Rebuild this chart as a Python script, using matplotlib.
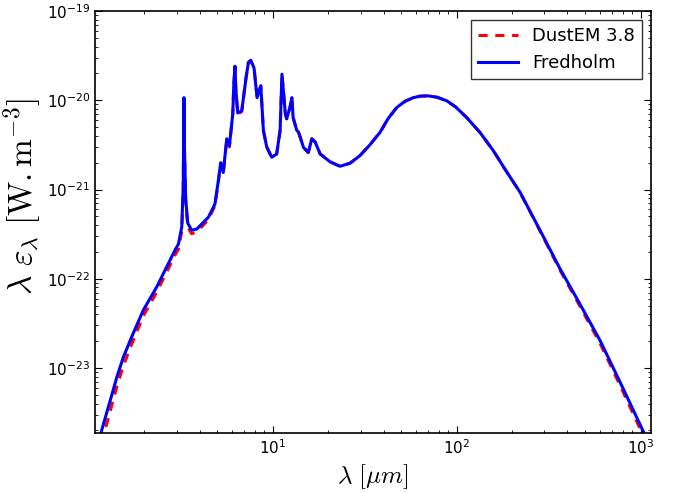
import matplotlib
matplotlib.use('Agg')
import matplotlib.pyplot as plt

# wavelength grid (micron)
lam = [1.17, 1.31, 1.42, 1.54, 1.71, 1.98, 2.34, 2.94, 3.07, 3.20, 3.26, 3.29, 3.31,
       3.36, 3.45, 3.62, 3.86, 4.47, 4.85, 5.06, 5.21, 5.38, 5.62, 5.81, 6.06, 6.14,
       6.23, 6.30, 6.45, 6.78, 7.16, 7.37, 7.59, 7.91, 8.08, 8.22, 8.61, 8.89, 9.27,
       9.88, 10.5, 10.96, 11.22, 11.7, 11.9, 12.4, 12.7, 12.9, 13.5, 13.8, 14.7, 15.6,
       16.3, 17.0, 18.1, 20.5, 23.2, 26.3, 29.8, 33.8, 38.3, 42.3, 47.2, 52.4, 58.1,
       63.2, 69.8, 78.2, 88.3, 99.1, 113, 134, 158, 185, 221, 284, 364, 468, 601,
       772, 1033]

fredholm = [1.95e-24, 4.4e-24, 7.9e-24, 1.32e-23, 2.23e-23, 4.47e-23, 8.1e-23, 2.09e-22,
            2.45e-22, 3.8e-22, 1.1e-21, 1.07e-20, 3.0e-21, 8.0e-22, 4.2e-22, 3.5e-22,
            3.6e-22, 4.9e-22, 6.9e-22, 1.26e-21, 2.0e-21, 1.55e-21, 3.7e-21, 3.1e-21,
            7.0e-21, 1.5e-20, 2.4e-20, 1.3e-20, 7.2e-21, 7.6e-21, 1.8e-20, 2.65e-20,
            2.8e-20, 2.3e-20, 1.5e-20, 1.07e-20, 1.45e-20, 4.6e-21, 3.0e-21, 2.3e-21,
            2.5e-21, 4.6e-21, 1.96e-20, 7.1e-21, 6.2e-21, 8.3e-21, 1.07e-20, 6.4e-21,
            4.6e-21, 4.4e-21, 2.95e-21, 2.6e-21, 3.7e-21, 3.4e-21, 2.5e-21, 2.04e-21,
            1.82e-21, 1.97e-21, 2.40e-21, 3.18e-21, 4.37e-21, 6.2e-21, 8.3e-21, 9.75e-21,
            1.07e-20, 1.11e-20, 1.12e-20, 1.08e-20, 9.86e-21, 8.35e-21, 6.43e-21, 4.34e-21,
            2.73e-21, 1.63e-21, 9.3e-22, 3.48e-22, 1.3e-22, 5.19e-23, 2.04e-23, 6.98e-24,
            1.95e-24]

dustem = [1.44e-24, 3.35e-24, 6.2e-24, 1.06e-23, 1.85e-23, 3.85e-23, 7.1e-23, 1.84e-22,
          2.15e-22, 3.4e-22, 1.0e-21, 1.0e-20, 2.8e-21, 7.4e-22, 3.8e-22, 3.2e-22,
          3.35e-22, 4.6e-22, 6.6e-22, 1.22e-21, 1.95e-21, 1.5e-21, 3.6e-21, 3.0e-21,
          7.0e-21, 1.5e-20, 2.4e-20, 1.3e-20, 7.0e-21, 7.5e-21, 1.8e-20, 2.65e-20,
          2.8e-20, 2.3e-20, 1.5e-20, 1.07e-20, 1.45e-20, 4.6e-21, 3.0e-21, 2.25e-21,
          2.5e-21, 4.6e-21, 1.96e-20, 7.1e-21, 6.2e-21, 8.3e-21, 1.07e-20, 6.4e-21,
          4.6e-21, 4.4e-21, 2.95e-21, 2.6e-21, 3.7e-21, 3.4e-21, 2.5e-21, 2.04e-21,
          1.82e-21, 1.97e-21, 2.40e-21, 3.18e-21, 4.37e-21, 6.2e-21, 8.3e-21, 9.75e-21,
          1.07e-20, 1.11e-20, 1.12e-20, 1.08e-20, 9.86e-21, 8.35e-21, 6.43e-21, 4.34e-21,
          2.73e-21, 1.63e-21, 9.3e-22, 3.42e-22, 1.25e-22, 4.9e-23, 1.9e-23, 6.4e-24,
          1.75e-24]

plt.rcParams['mathtext.fontset'] = 'cm'
plt.rcParams['axes.unicode_minus'] = False

fig = plt.figure(figsize=(6.76, 4.93), dpi=100)
ax = fig.add_axes([0.1405, 0.1217, 0.8225, 0.856])

ax.plot(lam, dustem, color='red', linestyle='--', linewidth=2.2, dashes=(3, 2.5),
        label='DustEM 3.8')
ax.plot(lam, fredholm, color='blue', linewidth=2.2, label='Fredholm')

ax.set_xscale('log')
ax.set_yscale('log')
ax.set_xlim(1.08, 1138)
ax.set_ylim(1.87e-24, 1e-19)

ax.tick_params(which='both', direction='in', top=True, right=True, labelsize=11)
ax.tick_params(which='major', length=5)
ax.tick_params(which='minor', length=2.5)
for s in ax.spines.values():
    s.set_linewidth(1.2)

ax.set_xlabel(r'$\lambda\ [\mu m]$', fontsize=18)
ax.set_ylabel(r'$\lambda\ \varepsilon_\lambda\ [\mathrm{W.m}^{-3}]$', fontsize=24)
ax.yaxis.set_label_coords(-0.092, 0.56)

leg = ax.legend(loc='upper right', fontsize=13, fancybox=False, handlelength=2.2,
                borderpad=0.4, edgecolor='black')
leg.get_frame().set_linewidth(1.0)

plt.savefig('out.png', dpi=100)
